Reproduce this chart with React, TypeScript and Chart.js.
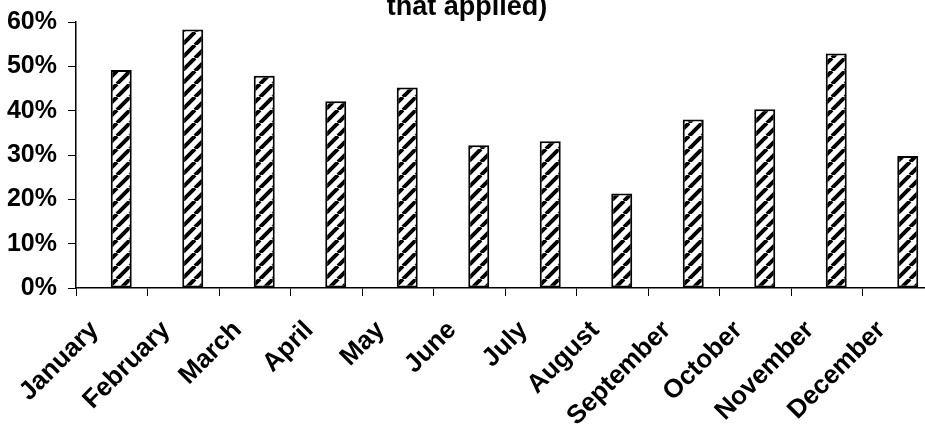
import React, { useEffect, useRef } from "react";
import { Chart, registerables } from "chart.js";

Chart.register(...registerables);

const TITLE_TEXT = "that applied)";
const MONTHS = [
  "January",
  "February",
  "March",
  "April",
  "May",
  "June",
  "July",
  "August",
  "September",
  "October",
  "November",
  "December",
];
// Share of respondents per month (percent)
const SHARE_PERCENT = [49.2, 58.3, 47.9, 42.1, 45.2, 32.2, 33.1, 21.3, 38.0, 40.3, 52.9, 29.8];
// Empty companion series in the original clustered chart (no values)
const EMPTY_SERIES: (number | null)[] = [null, null, null, null, null, null, null, null, null, null, null, null];
const Y_MIN = 0;
const Y_MAX = 60;
const Y_STEP = 10;

function makeHatch(): CanvasPattern | string {
  const size = 13;
  const c = document.createElement("canvas");
  c.width = size;
  c.height = size;
  const ctx = c.getContext("2d");
  if (!ctx) return "#888";
  ctx.fillStyle = "#ffffff";
  ctx.fillRect(0, 0, size, size);
  ctx.strokeStyle = "#000000";
  ctx.lineWidth = 4;
  ctx.beginPath();
  for (const k of [-size, 0, size]) {
    ctx.moveTo(k, size);
    ctx.lineTo(k + size, 0);
  }
  ctx.stroke();
  const p = ctx.createPattern(c, "repeat");
  return p || "#888";
}

export default function App() {
  const ref = useRef<HTMLCanvasElement | null>(null);

  useEffect(() => {
    const canvas = ref.current;
    if (!canvas) return;
    Chart.defaults.font.family = "'Liberation Sans', Arial, sans-serif";
    const hatch = makeHatch();
    const chart = new Chart(canvas, {
      type: "bar",
      data: {
        labels: MONTHS,
        datasets: [
          {
            label: "",
            data: EMPTY_SERIES,
            backgroundColor: "rgba(0,0,0,0)",
            borderWidth: 0,
          },
          {
            label: "Share",
            data: SHARE_PERCENT,
            backgroundColor: hatch as any,
            borderColor: "#000000",
            borderWidth: 2,
            borderSkipped: false,
          },
        ],
      },
      options: {
        responsive: false,
        animation: false,
        maintainAspectRatio: false,
        categoryPercentage: 0.531,
        barPercentage: 1.105,
        layout: { padding: { left: 0, right: 10, top: 0, bottom: 0 } },
        plugins: {
          legend: { display: false },
          tooltip: { enabled: false },
          title: {
            display: true,
            text: TITLE_TEXT,
            color: "#000000",
            font: { size: 27, weight: "bold", lineHeight: 1 },
            padding: { top: 14.5, bottom: 0.5 },
          },
        },
        scales: {
          x: {
            type: "category",
            offset: true,
            border: { display: true, color: "#000000", width: 1.5 },
            grid: {
              display: true,
              offset: true,
              drawOnChartArea: false,
              drawTicks: true,
              tickLength: 8,
              color: "#000000",
              lineWidth: 1,
            },
            ticks: {
              color: "#000000",
              font: { size: 26, weight: "bold" },
              minRotation: 45,
              maxRotation: 45,
              autoSkip: false,
              padding: 19,
              labelOffset: -17,
            },
            afterFit: (scale: any) => {
              scale.height = 152;
            },
          },
          y: {
            min: Y_MIN,
            max: Y_MAX,
            border: { display: true, color: "#000000", width: 1.5 },
            grid: {
              display: true,
              drawOnChartArea: false,
              drawTicks: true,
              tickLength: 8,
              color: "#000000",
              lineWidth: 1,
            },
            ticks: {
              stepSize: Y_STEP,
              color: "#000000",
              font: { size: 25, weight: "bold" },
              padding: 11,
              callback: (v: any) => `${v}%`,
            },
            afterFit: (scale: any) => {
              scale.width = 76;
            },
          },
        },
      },
    });
    return () => chart.destroy();
  }, []);

  return (
    <div
      style={{
        position: "fixed",
        left: 0,
        top: 0,
        width: 925,
        height: 425,
        overflow: "hidden",
        background: "#ffffff",
      }}
    >
      <canvas
        ref={ref}
        width={944}
        height={460}
        style={{ position: "absolute", left: 0, top: -20, width: 944, height: 460 }}
      />
    </div>
  );
}
